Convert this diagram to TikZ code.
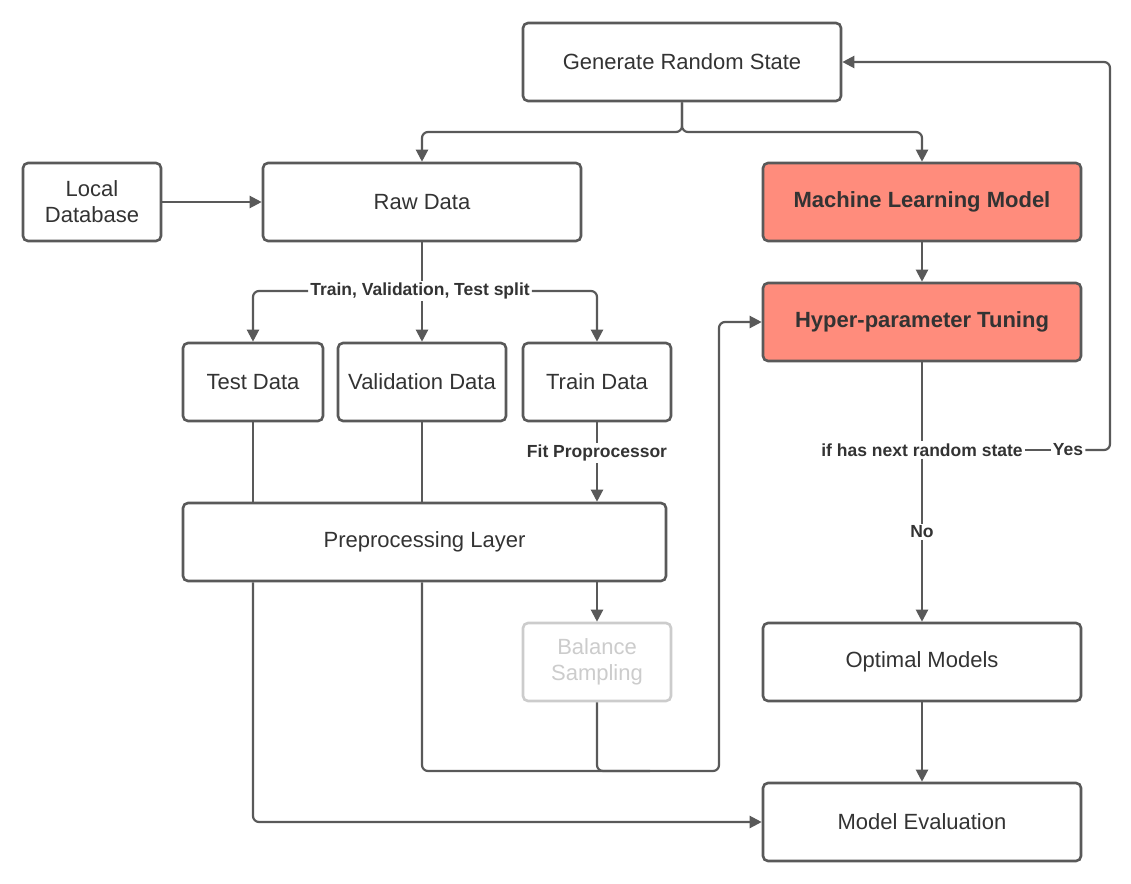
\documentclass[tikz,border=0pt]{standalone}
\usepackage{fontspec}
\setmainfont{Liberation Sans}
\usetikzlibrary{arrows.meta}
\definecolor{ln}{HTML}{595959}
\definecolor{txt}{HTML}{333333}
\definecolor{salmon}{HTML}{FF8C7C}
\definecolor{faint}{HTML}{CCCCCC}
\begin{document}
\begin{tikzpicture}[x=1pt,y=-1pt,
  box/.style={draw=ln, line width=2.6pt, rounded corners=5pt, fill=white, text=txt,
    font=\fontsize{22}{26}\selectfont, inner sep=0pt, align=center},
  hot/.style={box, fill=salmon, font=\fontsize{22}{26}\selectfont\bfseries},
  ghost/.style={box, draw=faint, text=faint},
  conn/.style={draw=ln, line width=2.2pt, rounded corners=6pt},
  arr/.style={conn, -{Triangle[length=12pt,width=12pt]}},
  lbl/.style={font=\fontsize{17.5}{20}\selectfont\bfseries, text=txt, inner sep=2pt, fill=white}
]
\useasboundingbox (0,0) rectangle (1131,883);
% boxes
\node[box, minimum width=318pt, minimum height=78pt] (gen) at (682,62) {Generate Random State};
\node[box, minimum width=138pt, minimum height=78pt] (loc) at (92,202) {Local\\Database};
\node[box, minimum width=318pt, minimum height=78pt] (raw) at (422,202) {Raw Data};
\node[hot, minimum width=318pt, minimum height=78pt] (mlm) at (922,202) {Machine Learning Model};
\node[hot, minimum width=318pt, minimum height=78pt] (hyp) at (922,322) {Hyper-parameter Tuning};
\node[box, minimum width=140pt, minimum height=78pt] (test) at (253,382) {Test Data};
\node[box, minimum width=168pt, minimum height=78pt] (val) at (422,382) {Validation Data};
\node[box, minimum width=148pt, minimum height=78pt] (train) at (597,382) {Train Data};
\node[box, minimum width=483pt, minimum height=78pt] (pre) at (424.5,542) {Preprocessing Layer};
\node[ghost, minimum width=148pt, minimum height=78pt] (bal) at (597,662) {Balance\\Sampling};
\node[box, minimum width=318pt, minimum height=78pt] (opt) at (922,662) {Optimal Models};
\node[box, minimum width=318pt, minimum height=78pt] (eval) at (922,822) {Model Evaluation};
% labels
\node[lbl] (split) at (420,291) {Train, Validation, Test split};
\node[lbl] (fit) at (597,453) {Fit Proprocessor};
\node[lbl] (ifl) at (922,450) {if has next random state};
\node[lbl] (yes) at (1068,450) {Yes};
\node[lbl] (no) at (922,532) {No};
% connectors
\coordinate (gs) at (682,132);
\draw[arr] (gen.south) -- (gs) -| (raw.north);
\draw[arr] (gen.south) -- (gs) -| (mlm.north);
\draw[arr] (loc.east) -- (raw.west);
\draw[conn] (raw.south) -- (raw.south |- split.north);
\draw[arr] (raw.south |- split.south) -- (val.north);
\draw[arr] (split.west) -| (test.north);
\draw[arr] (split.east) -| (train.north);
\draw[conn] (train.south) -- (fit.north);
\draw[arr] (fit.south) -- (fit.south |- pre.north);
\draw[conn] (test.south) -- (test.south |- pre.north);
\draw[conn] (val.south) -- (val.south |- pre.north);
\draw[arr] (pre.south -| bal.north) -- (bal.north);
\draw[arr] (pre.south -| val.south) |- (719,771) |- (hyp.west);
\draw[conn] (bal.south) |- (650,771);
\draw[arr] (pre.south -| test.south) |- (eval.west);
\draw[arr] (mlm.south) -- (hyp.north);
\draw[conn] (hyp.south) -- (ifl.north);
\draw[conn] (ifl.south) -- (no.north);
\draw[arr] (no.south) -- (opt.north);
\draw[conn] (ifl.east) -- (yes.west);
\draw[arr] (yes.east) -- (1110,450) |- (gen.east);
\draw[arr] (opt.south) -- (eval.north);
\end{tikzpicture}
\end{document}
